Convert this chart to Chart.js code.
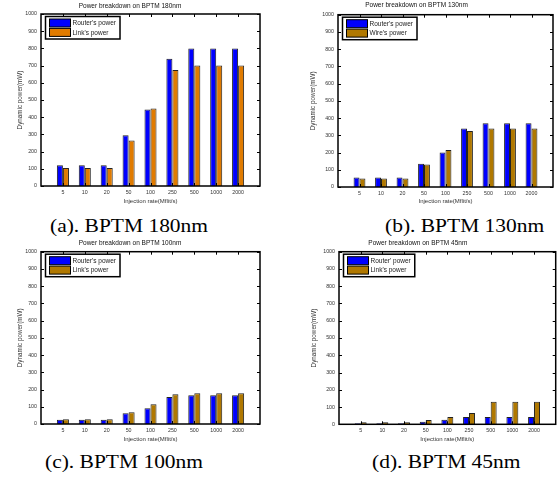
<!DOCTYPE html>
<html>
<head>
<meta charset="utf-8">
<script src="https://cdn.jsdelivr.net/npm/chart.js@4.4.1/dist/chart.umd.min.js"></script>
<style>
  html, body { margin: 0; padding: 0; background: #fff; }
  #wrap { position: relative; width: 560px; height: 478px; overflow: hidden; }
  canvas { position: absolute; }
  .cap {
    position: absolute;
    font-family: "Liberation Serif", "Times New Roman", serif;
    font-size: 19px;
    line-height: 19px;
    color: #000;
    white-space: nowrap;
    transform: scaleX(1.13);
    transform-origin: left top;
  }
</style>
</head>
<body>
<div id="wrap">
  <canvas id="c180" width="280" height="212" style="left:0;top:0"></canvas>
  <canvas id="c130" width="280" height="212" style="left:280px;top:0"></canvas>
  <canvas id="c100" width="280" height="212" style="left:0;top:239px"></canvas>
  <canvas id="c45" width="280" height="212" style="left:280px;top:239px"></canvas>
  <div class="cap" style="left:50px;top:216px">(a). BPTM 180nm</div>
  <div class="cap" style="left:385px;top:216px">(b). BPTM 130nm</div>
  <div class="cap" style="left:45px;top:452px">(c). BPTM 100nm</div>
  <div class="cap" style="left:372px;top:452px">(d). BPTM 45nm</div>
</div>
<script>
// injection rates (Mflit/s)
const rates = ['5', '10', '20', '50', '100', '250', '500', '1000', '2000'];
const yTicks = [0, 100, 200, 300, 400, 500, 600, 700, 800, 900, 1000];

// dynamic power (mW)
const router180 = [120, 120, 120, 295, 445, 740, 800, 800, 800];
const link180   = [105, 105, 105, 265, 450, 675, 700, 700, 700];
const router130 = [55, 55, 55, 135, 200, 340, 370, 370, 370];
const wire130   = [50, 50, 50, 130, 215, 325, 340, 340, 340];
const router100 = [25, 25, 25, 63, 92, 156, 167, 167, 167];
const link100   = [28, 28, 28, 68, 115, 173, 179, 179, 179];
const router45  = [6, 6, 6, 15, 27, 42, 42, 42, 42];
const link45    = [12, 12, 12, 25, 42, 65, 130, 130, 130];

const BLUE = '#0000ff';
const ORANGE = '#e07b00';
const GOLD = '#b07800';
const FONT = '"Liberation Sans", Arial, sans-serif';

Chart.defaults.font.family = FONT;
Chart.defaults.color = '#333';

// empty slot on each side, like the matlab axis
function pad(arr, fill) {
  return [fill].concat(arr, [fill]);
}

// box, inward ticks and boxed legend inside the axes
const frame = {
  id: 'frame',
  afterDraw(chart) {
    const {ctx, chartArea: a, scales: {x, y}} = chart;
    ctx.save();
    ctx.strokeStyle = '#000';
    ctx.lineWidth = 1;
    ctx.beginPath();
    y.ticks.forEach(t => {
      const py = Math.round(y.getPixelForValue(t.value)) + 0.5;
      ctx.moveTo(a.left, py); ctx.lineTo(a.left + 3, py);
      ctx.moveTo(a.right, py); ctx.lineTo(a.right - 3, py);
    });
    x.ticks.forEach((t, i) => {
      if (!chart.data.labels[t.value]) return;
      const px = Math.round(x.getPixelForTick(i)) + 0.5;
      ctx.moveTo(px, a.top); ctx.lineTo(px, a.top + 3);
      ctx.moveTo(px, a.bottom); ctx.lineTo(px, a.bottom - 3);
    });
    ctx.stroke();
    ctx.lineWidth = 1.5;
    ctx.strokeRect(a.left, a.top, a.right - a.left, a.bottom - a.top);

    // legend
    const sets = chart.data.datasets;
    ctx.font = '6.5px ' + FONT;
    const tw = Math.max(...sets.map(d => ctx.measureText(d.label).width));
    const lx = a.left + 4.5, ly = a.top + 2.5;
    const w = 27 + tw + 4, h = 22.5;
    ctx.fillStyle = '#fff';
    ctx.fillRect(lx, ly, w, h);
    ctx.lineWidth = 1.5;
    ctx.strokeRect(lx, ly, w, h);
    ctx.textBaseline = 'middle';
    sets.forEach((d, i) => {
      const cy = ly + 6.5 + i * 9.4;
      ctx.fillStyle = d.backgroundColor;
      ctx.fillRect(lx + 4, cy - 4, 21, 8);
      ctx.lineWidth = 1;
      ctx.strokeRect(lx + 4, cy - 4, 21, 8);
      ctx.fillStyle = '#222';
      ctx.fillText(d.label, lx + 27, cy + 0.5);
    });
    ctx.restore();
  }
};

function makeChart(id, opts) {
  return new Chart(document.getElementById(id), {
    type: 'bar',
    data: {
      labels: pad(rates, ''),
      datasets: [
        {label: opts.names[0], data: pad(opts.a, null), backgroundColor: BLUE},
        {label: opts.names[1], data: pad(opts.b, null), backgroundColor: opts.color}
      ]
    },
    options: {
      responsive: false,
      animation: false,
      layout: {padding: {left: 0, right: opts.padR, top: 0, bottom: 0}},
      datasets: {
        bar: {
          borderColor: '#222',
          borderWidth: 1,
          categoryPercentage: 0.55,
          barPercentage: 1.0
        }
      },
      plugins: {
        legend: {display: false},
        tooltip: {enabled: false},
        title: {
          display: true,
          text: opts.title,
          color: '#111',
          font: {size: 6.5, weight: 'normal', lineHeight: 1.2},
          padding: {top: opts.titleTop, bottom: opts.titleBottom}
        }
      },
      scales: {
        x: {
          offset: false,
          grid: {display: false, drawTicks: false},
          border: {display: false},
          ticks: {autoSkip: false, maxRotation: 0, padding: 3, font: {size: 5.3}},
          title: {
            display: true,
            text: 'Injection rate(Mflit/s)',
            font: {size: 6},
            padding: {top: 0, bottom: opts.xTitlePad}
          },
          afterFit: s => { s.height = opts.xH; }
        },
        y: {
          min: 0,
          max: 1000,
          grid: {display: false, drawTicks: false},
          border: {display: false},
          afterBuildTicks: s => { s.ticks = yTicks.map(v => ({value: v})); },
          ticks: {padding: 4, font: {size: 5.3}, callback: v => String(v)},
          title: {
            display: true,
            text: 'Dynamic power(mW)',
            font: {size: 6.3},
            padding: {top: opts.yTitleX - 3.8, bottom: 0}
          },
          afterFit: s => { s.width = opts.yW; }
        }
      }
    },
    plugins: [frame]
  });
}

makeChart('c180', {
  title: 'Power breakdown on BPTM 180nm',
  names: ["Router's power", "Link's power"],
  a: router180, b: link180, color: ORANGE,
  yW: 41, padR: 20, titleTop: 2.1, titleBottom: 4.1, xH: 26, xTitlePad: 7.4, yTitleX: 20
});

makeChart('c130', {
  title: 'Power breakdown on BPTM 130nm',
  names: ["Router's power", "Wire's power"],
  a: router130, b: wire130, color: GOLD,
  yW: 58, padR: 7, titleTop: 1.8, titleBottom: 5.1, xH: 25, xTitlePad: 7.4, yTitleX: 33
});

makeChart('c100', {
  title: 'Power breakdown on BPTM 100nm',
  names: ["Router's power", "Link's power"],
  a: router100, b: link100, color: GOLD,
  yW: 41, padR: 20, titleTop: 0.8, titleBottom: 4.1, xH: 27, xTitlePad: 8.4, yTitleX: 20
});

makeChart('c45', {
  title: 'Power breakdown on BPTM 45nm',
  names: ["Router' power", "Link's power"],
  a: router45, b: link45, color: GOLD,
  yW: 59, padR: 4.3, titleTop: 0.8, titleBottom: 4.1, xH: 26.7, xTitlePad: 8.4, yTitleX: 34
});
</script>
</body>
</html>
